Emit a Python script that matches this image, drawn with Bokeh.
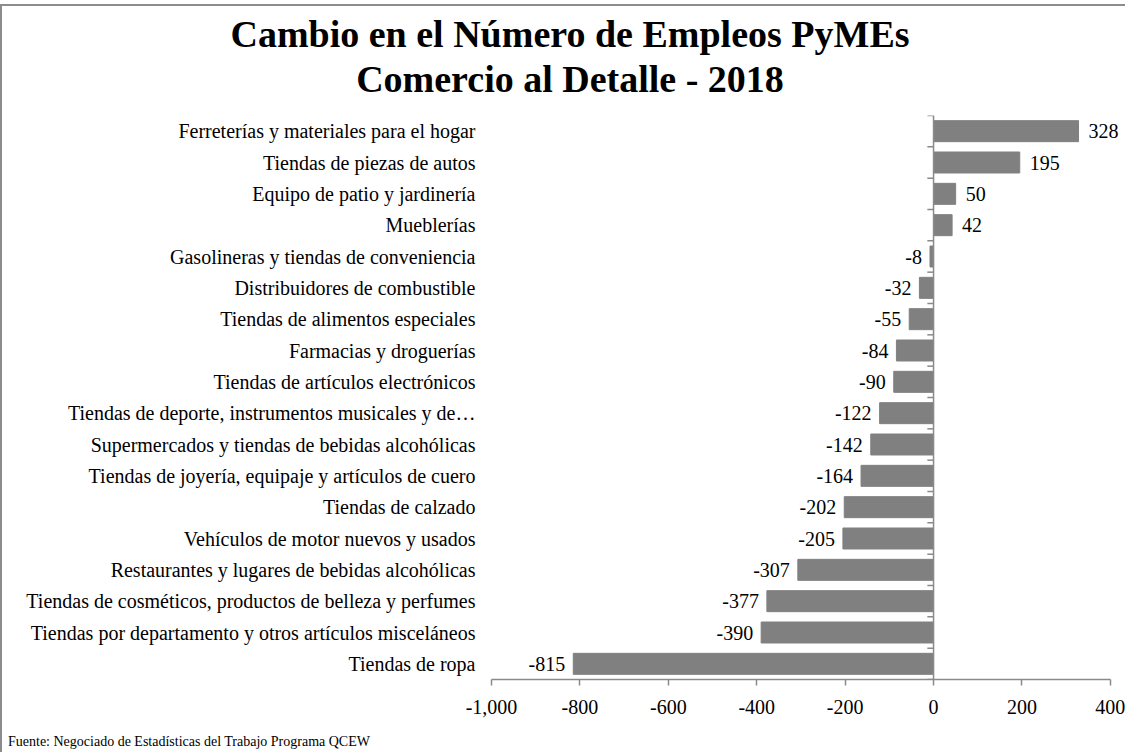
from bokeh.plotting import figure
from bokeh.layouts import column
from bokeh.models import Range1d, FixedTicker, NumeralTickFormatter, Span, ColumnDataSource, Div
from bokeh.embed import file_html
from bokeh.resources import INLINE

categories = [
    "Ferreterías y materiales para el hogar",
    "Tiendas de piezas de autos",
    "Equipo de patio y jardinería",
    "Mueblerías",
    "Gasolineras y tiendas de conveniencia",
    "Distribuidores de combustible",
    "Tiendas de alimentos especiales",
    "Farmacias y droguerías",
    "Tiendas de artículos electrónicos",
    "Tiendas de deporte, instrumentos musicales y de…",
    "Supermercados y tiendas de bebidas alcohólicas",
    "Tiendas de joyería, equipaje y artículos de cuero",
    "Tiendas de calzado",
    "Vehículos de motor nuevos y usados",
    "Restaurantes y lugares de bebidas alcohólicas",
    "Tiendas de cosméticos, productos de belleza y perfumes",
    "Tiendas por departamento y otros artículos misceláneos",
    "Tiendas de ropa",
]
values = [328, 195, 50, 42, -8, -32, -55, -84, -90, -122, -142, -164,
          -202, -205, -307, -377, -390, -815]
x_ticks = [-1000, -800, -600, -400, -200, 0, 200, 400]
title_lines = ["Cambio en el Número de Empleos PyMEs", "Comercio al Detalle - 2018"]
source_note = "Fuente: Negociado de Estadísticas del Trabajo Programa QCEW"

FONT = "Liberation Serif"
GRAY = "#808080"
AXIS = "#8a8a8a"

n = len(categories)
ypos = [n - i for i in range(n)]

W = 1123
ML, MR, MT, MB = 489, 1, 9, 55
FH = 564
H = MT + FH + MB
X_PAD = 32  # room on the right for the value labels

title_div = Div(
    text=("<div style=\"box-sizing:border-box;width:1123px;padding-left:13px;padding-top:6px;"
          f"text-align:center;font-family:'{FONT}';font-weight:bold;font-size:38px;"
          f"line-height:45px;color:black\">{title_lines[0]}<br>{title_lines[1]}</div>"),
    width=W, height=100, margin=0)

footer_div = Div(
    text=(f"<div style=\"padding-left:6px;font-family:'{FONT}';font-size:14px;"
          f"line-height:14px;color:black;white-space:nowrap\">{source_note}</div>"),
    width=W, height=18, margin=0)

p = figure(width=W, height=H, output_backend="svg", toolbar_location=None,
           x_range=Range1d(x_ticks[0], x_ticks[-1] + X_PAD), y_range=Range1d(0.5, n + 0.5),
           min_border_left=ML, min_border_right=MR, min_border_top=MT, min_border_bottom=MB,
           margin=0)
p.title.visible = False
p.outline_line_color = None
p.xgrid.visible = False
p.ygrid.visible = False

src = ColumnDataSource(dict(
    y=ypos, v=values, txt=[str(v) for v in values],
    align=["left" if v >= 0 else "right" for v in values],
    xoff=[10 if v >= 0 else -8 for v in values],
))
p.hbar(y="y", right="v", left=0, height=0.67, source=src, fill_color=GRAY, line_color=GRAY)
p.text(x="v", y="y", text="txt", source=src, text_align="align", x_offset="xoff",
       text_baseline="middle", text_font={"value": FONT}, text_font_size="20px", text_color="black")

# vertical zero line with category-boundary ticks
p.add_layout(Span(location=0, dimension="height", line_color=AXIS, line_width=1.5))
bounds = [k + 0.5 for k in range(n + 1)]
p.segment(x0=[-14] * len(bounds), x1=[0] * len(bounds), y0=bounds, y1=bounds,
          line_color=AXIS, line_width=1.5)

# y axis (category labels)
yax = p.yaxis[0]
yax.ticker = FixedTicker(ticks=ypos)
yax.major_label_overrides = {yy: c for yy, c in zip(ypos, categories)}
yax.axis_line_color = None
yax.major_tick_line_color = None
yax.major_tick_out = 0
yax.major_tick_in = 0
yax.minor_tick_line_color = None
yax.major_label_standoff = 16
yax.major_label_text_font = FONT
yax.major_label_text_font_size = "20px"
yax.major_label_text_color = "black"

# x axis
xax = p.xaxis[0]
xax.ticker = FixedTicker(ticks=x_ticks)
xax.bounds = (x_ticks[0], x_ticks[-1])
xax.formatter = NumeralTickFormatter(format="0,0")
xax.axis_line_color = AXIS
xax.axis_line_width = 1.5
xax.major_tick_line_color = AXIS
xax.major_tick_line_width = 1.5
xax.major_tick_out = 6
xax.major_tick_in = 0
xax.minor_tick_line_color = None
xax.major_label_standoff = 14
xax.major_label_text_font = FONT
xax.major_label_text_font_size = "20px"
xax.major_label_text_color = "black"

layout = column(title_div, p, footer_div, spacing=0, margin=(4, 0, 0, 0),
                styles={"border-top": "2px solid #8c8c8c", "border-left": "2px solid #8c8c8c"})

open("out.html", "w").write(file_html(layout, INLINE))
